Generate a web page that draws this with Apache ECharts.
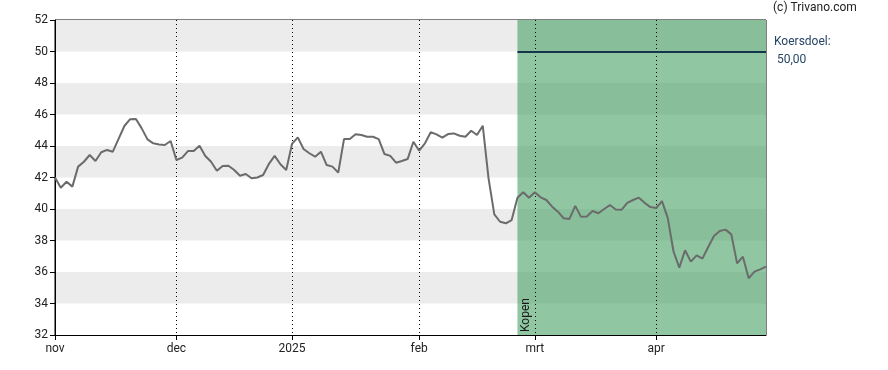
<!DOCTYPE html>
<html>
<head>
<meta charset="utf-8">
<script src="https://cdn.jsdelivr.net/npm/echarts@6/dist/echarts.min.js"></script>
<style>html,body{margin:0;padding:0;background:#fff}#c{width:888px;height:370px}</style>
</head>
<body>
<div id="c"></div>
<script>
// Trading days (categories)
const dates = [
 "2024-11-01","2024-11-04","2024-11-05","2024-11-06","2024-11-07","2024-11-08","2024-11-11","2024-11-12","2024-11-13","2024-11-14","2024-11-15","2024-11-18","2024-11-19","2024-11-20","2024-11-21","2024-11-22","2024-11-25","2024-11-26","2024-11-27","2024-11-28","2024-11-29",
 "2024-12-02","2024-12-03","2024-12-04","2024-12-05","2024-12-06","2024-12-09","2024-12-10","2024-12-11","2024-12-12","2024-12-13","2024-12-16","2024-12-17","2024-12-18","2024-12-19","2024-12-20","2024-12-23","2024-12-24","2024-12-27","2024-12-30","2024-12-31",
 "2025-01-02","2025-01-03","2025-01-06","2025-01-07","2025-01-08","2025-01-09","2025-01-10","2025-01-13","2025-01-14","2025-01-15","2025-01-16","2025-01-17","2025-01-20","2025-01-21","2025-01-22","2025-01-23","2025-01-24","2025-01-27","2025-01-28","2025-01-29","2025-01-30","2025-01-31",
 "2025-02-03","2025-02-04","2025-02-05","2025-02-06","2025-02-07","2025-02-10","2025-02-11","2025-02-12","2025-02-13","2025-02-14","2025-02-17","2025-02-18","2025-02-19","2025-02-20","2025-02-21","2025-02-24","2025-02-25","2025-02-26","2025-02-27","2025-02-28",
 "2025-03-03","2025-03-04","2025-03-05","2025-03-06","2025-03-07","2025-03-10","2025-03-11","2025-03-12","2025-03-13","2025-03-14","2025-03-17","2025-03-18","2025-03-19","2025-03-20","2025-03-21","2025-03-24","2025-03-25","2025-03-26","2025-03-27","2025-03-28","2025-03-31",
 "2025-04-01","2025-04-02","2025-04-03","2025-04-04","2025-04-07","2025-04-08","2025-04-09","2025-04-10","2025-04-11","2025-04-14","2025-04-15","2025-04-16","2025-04-17","2025-04-22","2025-04-23","2025-04-24","2025-04-25","2025-04-28","2025-04-29","2025-04-30"
];
// Closing prices
const prices = [
 42.0,41.35,41.73,41.42,42.69,43.0,43.43,43.05,43.6,43.75,43.64,44.45,45.27,45.7,45.71,45.12,44.42,44.17,44.1,44.06,44.32,
 43.11,43.26,43.68,43.68,44.02,43.37,43.0,42.43,42.73,42.75,42.48,42.11,42.22,41.95,42.0,42.16,42.86,43.37,42.84,42.48,
 44.13,44.55,43.81,43.54,43.32,43.64,42.79,42.69,42.31,44.44,44.44,44.74,44.7,44.59,44.59,44.44,43.49,43.37,42.94,43.05,43.17,44.27,
 43.7,44.17,44.87,44.74,44.53,44.76,44.8,44.65,44.59,44.97,44.7,45.29,41.95,39.66,39.19,39.09,39.3,40.72,41.06,40.72,
 41.06,40.74,40.57,40.15,39.83,39.41,39.37,40.2,39.5,39.52,39.87,39.73,40.0,40.25,39.97,39.95,40.39,40.57,40.72,40.39,40.12,
 40.06,40.5,39.44,37.3,36.28,37.38,36.66,37.06,36.85,37.59,38.29,38.6,38.69,38.39,36.55,36.97,35.6,36.02,36.17,36.34
];
// Month tick labels
const monthLabels = {"2024-11":"nov","2024-12":"dec","2025-01":"2025","2025-02":"feb","2025-03":"mrt","2025-04":"apr"};
// Advice period and target
const adviceStart = "2025-02-26";
const adviceEnd = "2025-04-30";
const adviceLabel = "Kopen";
const target = 50;
const targetText = "50,00";
const yMin = 32, yMax = 52, yStep = 2;

function isMonthStart(i){ return i === 0 || dates[i].slice(0,7) !== dates[i-1].slice(0,7); }
const font = 'Roboto, "Liberation Sans", sans-serif';

const chart = echarts.init(document.getElementById('c'), null, {renderer:'canvas'});
chart.setOption({
  animation:false,
  backgroundColor:'#fff',
  grid:{left:55,right:122,top:20,bottom:35,show:true,borderColor:'#000',borderWidth:1,backgroundColor:'transparent'},
  xAxis:{
    type:'category', data:dates, boundaryGap:false, z:3,
    axisLine:{lineStyle:{color:'#000',width:1}},
    axisTick:{show:true,length:5,interval:(i)=>isMonthStart(i),lineStyle:{color:'#000'}},
    axisLabel:{interval:(i)=>isMonthStart(i),margin:8,color:'#222',fontSize:12,fontFamily:font,
      formatter:(v)=>monthLabels[v.slice(0,7)]||''},
    splitLine:{show:true,interval:(i)=>isMonthStart(i) && i>0,lineStyle:{color:'#000',type:[1,3],width:1}}
  },
  yAxis:{
    type:'value', min:yMin, max:yMax, interval:yStep,
    axisLine:{show:true,lineStyle:{color:'#000'}},
    axisTick:{show:true,length:5,lineStyle:{color:'#000'}},
    axisLabel:{color:'#222',fontSize:12,fontFamily:font,margin:7},
    splitLine:{show:false},
    splitArea:{show:true,areaStyle:{color:['#ffffff','#ececec']}}
  },
  series:[{
    type:'line', data:prices, symbol:'none', smooth:false,
    lineStyle:{color:'#6b6b6b',width:2},
    z:4,
    markArea:{silent:true,
      itemStyle:{color:'rgba(70,160,100,0.6)'},
      label:{show:true,position:'insideBottomLeft',rotate:90,color:'#1a1a1a',fontSize:12,fontFamily:font,distance:3,offset:[0,12]},
      data:[[{xAxis:adviceStart,name:adviceLabel},{xAxis:adviceEnd}]]},
    markLine:{silent:true,symbol:'none',label:{show:false},
      lineStyle:{color:'#15354d',width:2,type:'solid'},
      data:[[{coord:[adviceStart,target]},{coord:[adviceEnd,target]}]]}
  }],
  graphic:[
    {type:'text',left:773,top:2,style:{text:'(c) Trivano.com',fill:'#222',fontSize:12,fontFamily:font}},
    {type:'text',left:774,top:36,style:{text:'Koersdoel:',fill:'#274565',fontSize:12,fontFamily:font}},
    {type:'text',left:777,top:54,style:{text:targetText,fill:'#274565',fontSize:12,fontFamily:font}}
  ]
});
</script>
</body>
</html>
